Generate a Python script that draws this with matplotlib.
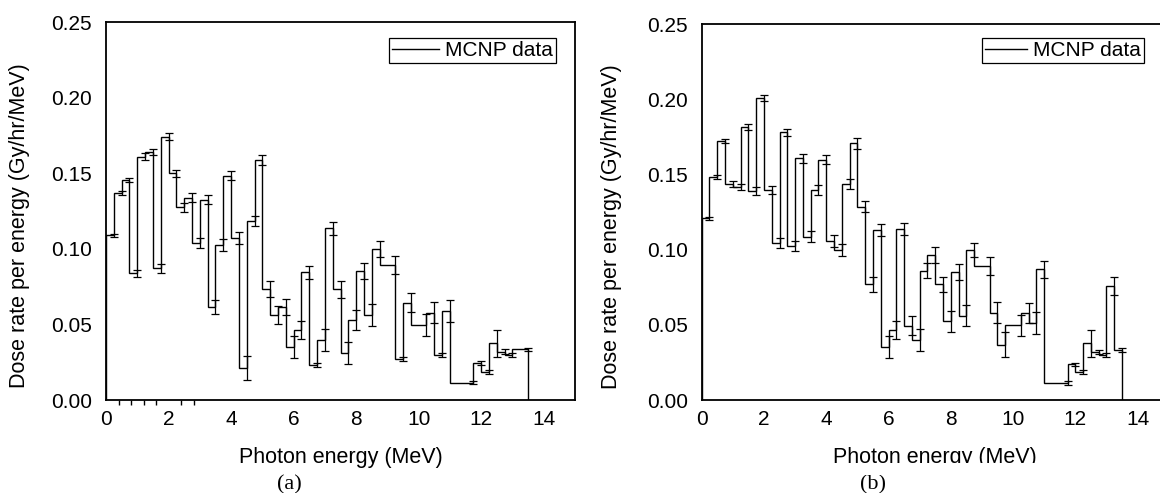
import matplotlib
matplotlib.use("Agg")
import matplotlib.pyplot as plt
from matplotlib.lines import Line2D
from matplotlib.patches import Rectangle
import numpy as np

# ---------------- data ----------------
# upper bin edges (MeV) of the MCNP tally bins; first bin starts at 0
energy_a = [0.25, 0.5, 0.75, 1.0, 1.25, 1.5, 1.75, 2.0, 2.25, 2.5, 2.75, 3.0,
            3.25, 3.5, 3.75, 4.0, 4.25, 4.5, 4.75, 5.0, 5.25, 5.5, 5.75, 6.0,
            6.25, 6.5, 6.75, 7.0, 7.25, 7.5, 7.75, 8.0, 8.25, 8.5, 8.75,
            9.25, 9.5, 9.75, 10.25, 10.5, 10.75, 11.0, 11.75, 12.0, 12.25,
            12.5, 12.75, 13.0, 13.5]
dose_a = [0.1090, 0.1370, 0.1455, 0.0838, 0.1609, 0.1642, 0.0871, 0.1742,
          0.1499, 0.1274, 0.1338, 0.1041, 0.1323, 0.0613, 0.1023, 0.1484,
          0.1071, 0.0209, 0.1186, 0.1587, 0.0734, 0.0562, 0.0617, 0.0353,
          0.0463, 0.0844, 0.0231, 0.0397, 0.1135, 0.0732, 0.0309, 0.0529,
          0.0853, 0.0562, 0.0999, 0.0893, 0.0271, 0.0644, 0.0496, 0.0578,
          0.0298, 0.0589, 0.0115, 0.0243, 0.0187, 0.0375, 0.0320, 0.0298,
          0.0335]
err_a = [0.0011, 0.0014, 0.0013, 0.0025, 0.0022, 0.0021, 0.0030, 0.0024,
         0.0024, 0.0030, 0.0028, 0.0033, 0.0030, 0.0047, 0.0039, 0.0029,
         0.0037, 0.0080, 0.0034, 0.0035, 0.0050, 0.0057, 0.0052, 0.0073,
         0.0060, 0.0045, 0.0013, 0.0070, 0.0045, 0.0057, 0.0072, 0.0069,
         0.0050, 0.0072, 0.0050, 0.0058, 0.0011, 0.0064, 0.0074, 0.0068,
         0.0014, 0.0070, 0.0012, 0.0013, 0.0013, 0.0090, 0.0015, 0.0013,
         0.0011]

energy_b = [0.25, 0.5, 0.75, 1.0, 1.25, 1.5, 1.75, 2.0, 2.25, 2.5, 2.75, 3.0,
            3.25, 3.5, 3.75, 4.0, 4.25, 4.5, 4.75, 5.0, 5.25, 5.5, 5.75, 6.0,
            6.25, 6.5, 6.75, 7.0, 7.25, 7.5, 7.75, 8.0, 8.25, 8.5, 8.75,
            9.25, 9.5, 9.75, 10.25, 10.5, 10.75, 11.0, 11.75, 12.0, 12.25,
            12.5, 12.75, 13.0, 13.25, 13.5]
dose_b = [0.1208, 0.1485, 0.1724, 0.1434, 0.1414, 0.1817, 0.1390, 0.2005,
          0.1396, 0.1046, 0.1780, 0.1024, 0.1607, 0.1086, 0.1396, 0.1596,
          0.1057, 0.0997, 0.1436, 0.1707, 0.1285, 0.0769, 0.1130, 0.0355,
          0.0465, 0.1137, 0.0494, 0.0399, 0.0860, 0.0964, 0.0771, 0.0525,
          0.0853, 0.0561, 0.0997, 0.0891, 0.0581, 0.0366, 0.0496, 0.0576,
          0.0514, 0.0869, 0.0115, 0.0237, 0.0188, 0.0377, 0.0321, 0.0299,
          0.0758, 0.0332]
err_b = [0.0011, 0.0014, 0.0014, 0.0020, 0.0019, 0.0020, 0.0024, 0.0020,
         0.0028, 0.0034, 0.0025, 0.0033, 0.0028, 0.0035, 0.0033, 0.0030,
         0.0039, 0.0040, 0.0033, 0.0035, 0.0038, 0.0050, 0.0040, 0.0073,
         0.0061, 0.0042, 0.0063, 0.0071, 0.0052, 0.0050, 0.0050, 0.0070,
         0.0052, 0.0072, 0.0049, 0.0059, 0.0072, 0.0083, 0.0072, 0.0066,
         0.0073, 0.0057, 0.0012, 0.0011, 0.0013, 0.0091, 0.0013, 0.0013,
         0.0058, 0.0013]

x_ticks = [0, 2, 4, 6, 8, 10, 12, 14]
y_ticks = [0.00, 0.05, 0.10, 0.15, 0.20, 0.25]
minor_ticks_a = [0.4, 0.8, 1.2, 1.6, 2.4, 2.8]
legend_label = "MCNP data"
xlabel = "Photon energy (MeV)"
ylabel = "Dose rate per energy (Gy/hr/MeV)"

# ---------------- figure ----------------
W, H = 1160, 493
fig = plt.figure(figsize=(W / 100, H / 100), dpi=100)
sans = "Liberation Sans"
serif = "Liberation Serif"


def px_axes(x0, x1, ytop, ybot):
    return [x0 / W, 1 - ybot / H, (x1 - x0) / W, (ybot - ytop) / H]


ax_a = fig.add_axes(px_axes(106, 575, 22, 400))
ax_b = fig.add_axes(px_axes(701.7, 1168.7, 24, 400))


def draw(ax, energy, dose, err, leg_anchor, ylab_x, minor=None, handlelen=2.25):
    edges = [0.0] + list(energy)
    ax.stairs(dose, edges, baseline=0, color="black", lw=1.0)
    ax.errorbar(energy, dose, yerr=err, fmt="none", ecolor="black",
                elinewidth=0.9, capsize=3.2, capthick=0.9)
    ax.set_xlim(0, 15)
    ax.set_ylim(0, 0.25)
    ax.set_xticks(x_ticks)
    ax.set_xticklabels([str(t) for t in x_ticks], fontfamily=sans, fontsize=15)
    ax.set_yticks(y_ticks)
    ax.set_yticklabels(["%.2f" % t for t in y_ticks], fontfamily=sans, fontsize=15)
    ax.tick_params(axis="both", which="major", length=0)
    ax.tick_params(axis="y", pad=10)
    ax.tick_params(axis="x", pad=7)
    if minor:
        ax.set_xticks(minor, minor=True)
        ax.tick_params(axis="x", which="minor", length=3.5, width=1.0,
                       direction="out")
    for s in ax.spines.values():
        s.set_linewidth(1.3)
    ax.set_xlabel(xlabel, fontfamily=sans, fontsize=15.5)
    ax.set_ylabel(ylabel, fontfamily=sans, fontsize=15.5)
    ax.xaxis.set_label_coords(0.5, -0.125)
    ax.yaxis.set_label_coords(ylab_x, 0.46)
    h = Line2D([], [], color="black", lw=1.0)
    leg = ax.legend([h], [legend_label], loc="upper right",
                    bbox_to_anchor=leg_anchor, borderaxespad=0,
                    fancybox=False, framealpha=1, edgecolor="black",
                    prop={"family": sans, "size": 15}, handlelength=handlelen,
                    handletextpad=0.3, borderpad=0.15)
    leg.get_frame().set_linewidth(0.9)


draw(ax_a, energy_a, dose_a, err_a, (0.9595, 0.9577), -0.163,
     minor=minor_ticks_a, handlelen=2.25)
draw(ax_b, energy_b, dose_b, err_b, (0.9478, 0.9628), -0.171, handlelen=2.0)

fig.text(289 / W, 1 - 485 / H, "(a)", fontfamily=serif, fontsize=16,
         ha="center", va="center")
fig.text(873 / W, 1 - 485 / H, "(b)", fontfamily=serif, fontsize=16,
         ha="center", va="center")

# the (b) panel's x label is cut off at its lower edge in the reference
fig.patches.append(Rectangle((820 / W, 1 - 475 / H), 230 / W, 12 / H,
                             transform=fig.transFigure, facecolor="white",
                             edgecolor="none", zorder=10))

fig.savefig("out.png", dpi=100)
